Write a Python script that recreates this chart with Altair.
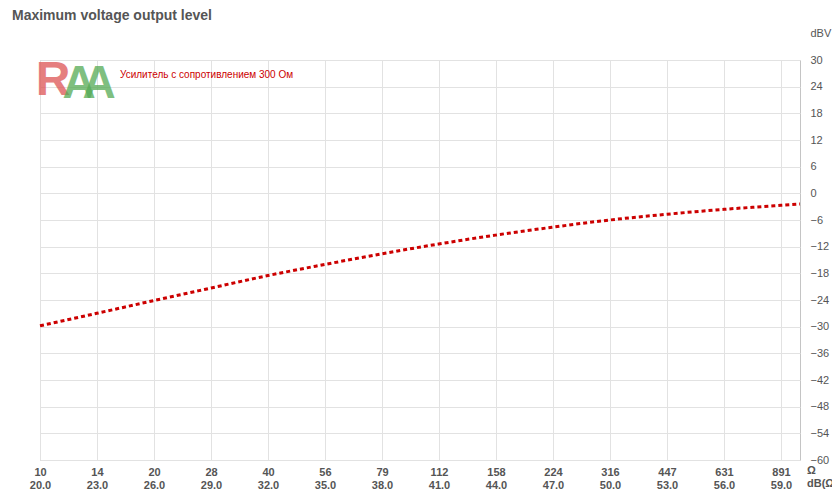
import altair as alt
import pandas as pd

# ---- data ----
ohms = [10, 14.1, 20, 28.2, 39.8, 56.2, 79.4, 112, 158, 224, 316, 447, 631, 891, 1000]
dbv = [-29.8, -27.0, -24.1, -21.3, -18.5, -16.0, -13.6, -11.4, -9.4, -7.6, -6.0, -4.7, -3.6, -2.7, -2.4]
x_ticks = [10, 14.125, 19.953, 28.184, 39.811, 56.234, 79.433, 112.2, 158.49, 223.87,
           316.23, 446.68, 630.96, 891.25]
y_ticks = [-60, -54, -48, -42, -36, -30, -24, -18, -12, -6, 0, 6, 12, 18, 24, 30]
title_text = ["Maximum voltage output level"]
legend_text = ["Усилитель с сопротивлением 300 Ом"]
y_unit = "dBV"
x_unit_1 = ["Ω"]
x_unit_2 = ["dB(Ω)"]
logo_r = ["R"]
logo_a = ["A"]

W, H = 760, 400
FONT = "Liberation Sans"

df = pd.DataFrame({"ohm": ohms, "dbv": dbv})

line = alt.Chart(df).mark_line(
    color="#cc0000", strokeWidth=3, strokeDash=[4, 3], interpolate="monotone"
).encode(
    x=alt.X("ohm:Q",
            scale=alt.Scale(type="log", domain=[10, 1000], nice=False),
            axis=alt.Axis(values=x_ticks, title=None, orient="bottom",
                          labelExpr="[format(datum.value, '.0f'), format(20*log(datum.value)/LN10, '.1f')]",
                          labelFontWeight="bold", labelLineHeight=13, labelPadding=6,
                          labelFlush=False, labelOverlap=False, labelBaseline="top")),
    y=alt.Y("dbv:Q",
            scale=alt.Scale(domain=[-60, 30], nice=False, zero=False),
            axis=alt.Axis(values=y_ticks, orient="right", title=y_unit, titleAngle=0,
                          titleAlign="left", titleBaseline="middle", titleX=10, titleY=-27,
                          titleFont=FONT, titleFontSize=11, titleFontWeight="normal",
                          titleColor="#555555", labelPadding=10, labelFlush=False,
                          labelBaseline="middle")),
)

def txt(data, x, y, size, color, weight="normal", align="left", opacity=1.0):
    return alt.Chart(pd.DataFrame({"t": data})).mark_text(
        font=FONT, fontSize=size, fontWeight=weight, color=color, align=align,
        baseline="middle", opacity=opacity
    ).encode(text="t:N", x=alt.value(x), y=alt.value(y))

title_layer = txt(title_text, -28, -44, 14, "#555555", "bold")
legend_layer = txt(legend_text, 80, 15, 10, "#cc0000")
unit1 = txt(x_unit_1, 767, 411, 11, "#555555", "bold")
unit2 = txt(x_unit_2, 767, 424, 11, "#555555", "bold")
logo1 = txt(logo_r, 13, 21, 48, "#dd5555", "bold", "center", 0.75)
logo2 = txt(logo_a, 39, 24, 46, "#55aa55", "bold", "center", 0.75)
logo3 = txt(logo_a, 59, 24, 46, "#55aa55", "bold", "center", 0.75)

chart = alt.layer(
    logo1, logo2, logo3, line, title_layer, legend_layer, unit1, unit2
).properties(
    width=W, height=H,
    autosize=alt.AutoSizeParams(type="none"),
    padding={"left": 32, "top": 52, "right": 32, "bottom": 32},
    background="white",
).configure_view(
    stroke="#c4c4c4", strokeWidth=1
).configure_axis(
    labelFont=FONT, labelFontSize=11, labelColor="#555555",
    tickSize=0, domain=False, grid=True, gridColor="#e2e2e2", gridWidth=1,
)

chart.save("out.html", embed_options={"renderer": "svg", "actions": False})
